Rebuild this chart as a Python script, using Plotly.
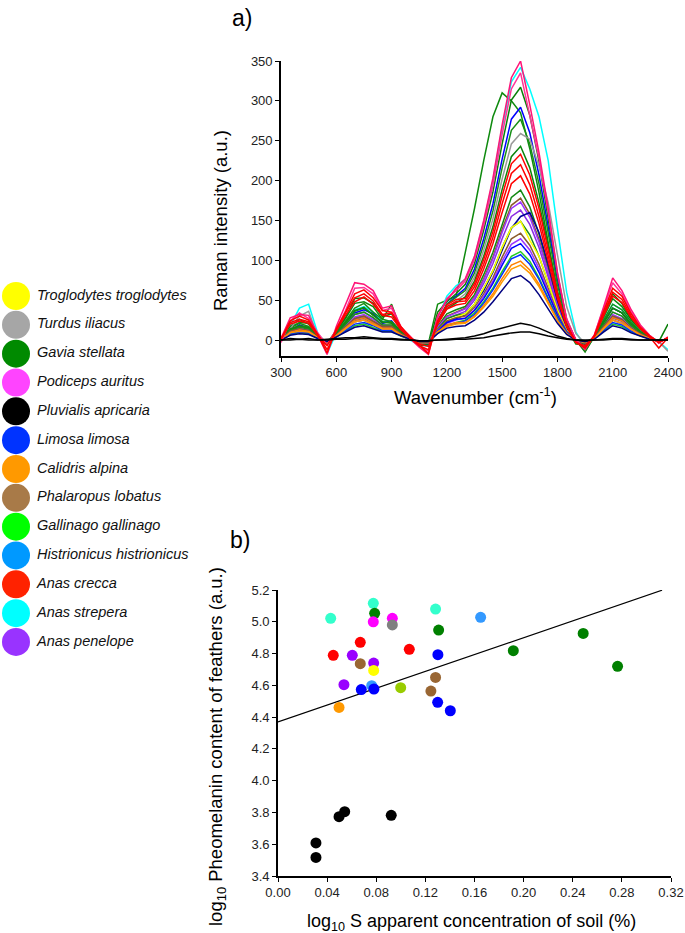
import plotly.graph_objects as go

FONT = "Liberation Sans, Arial, sans-serif"

# ---------------- Panel a: Raman spectra (values read at 50 cm-1 steps) ----------------
WAVENUMBER = [300, 350, 400, 450, 500, 550, 600, 650, 700, 750, 800, 850, 900, 950,
              1000, 1050, 1100, 1150, 1200, 1250, 1300, 1350, 1400, 1450, 1500, 1550,
              1600, 1650, 1700, 1750, 1800, 1850, 1900, 1950, 2000, 2050, 2100, 2150,
              2200, 2250, 2300, 2350, 2400]

SPEC_PINK_A = [2, 28, 32, 31, 6, -18, 17, 44, 72, 70, 62, 40, 43, 17, 2, -9, -18, 30, 50, 65, 77, 105, 150, 203, 270, 329, 350, 295, 235, 165, 85, 25, 0, -12, 6, 41, 78, 62, 38, 19, 6, -4, 4]
SPEC_CYAN = [3, 18, 40, 45, 8, -17, 9, 22, 38, 42, 35, 23, 24, 10, 0, -6, -8, 28, 55, 68, 76, 104, 148, 200, 266, 324, 342, 315, 280, 225, 140, 60, 10, -8, 4, 25, 45, 38, 23, 11, 4, -2, -12]
SPEC_PINK_B = [-3, 24, 34, 27, 9, -6, 13, 37, 65, 66, 58, 37, 40, 16, 5, -7, -14, 28, 52, 62, 74, 101, 144, 194, 258, 315, 335, 282, 228, 160, 84, 27, 0, -10, 6, 39, 72, 58, 35, 17, 6, -3, 3]
SPEC_GREEN_A = [1, 17, 26, 20, 7, -4, 12, 28, 52, 53, 46, 29, 33, 12, 3, -7, -6, 35, 48, 58, 70, 96, 138, 186, 246, 301, 317, 282, 224, 154, 80, 26, 0, -15, 5, 32, 58, 46, 26, 14, 5, -2, 20]
SPEC_GREEN_B = [0, 16, 22, 21, 4, -6, 11, 27, 46, 48, 42, 26, 45, 13, 2, -5, -4, 45, 50, 55, 110, 165, 225, 280, 310, 300, 285, 240, 185, 120, 60, 15, -5, -6, 4, 28, 52, 42, 25, 13, 4, -3, 3]
SPEC_BLUE_A = [2, 12, 19, 15, 3, -5, 9, 20, 34, 38, 33, 21, 24, 9, 1, -3, -6, 24, 45, 55, 65, 89, 127, 171, 227, 277, 292, 260, 207, 142, 74, 24, 0, -5, 3, 22, 40, 34, 20, 10, 3, -2, 2]
SPEC_GREEN_C = [-2, 15, 21, 17, 6, -4, 10, 24, 40, 46, 35, 26, 23, 12, 3, -6, -4, 24, 45, 54, 62, 84, 120, 162, 216, 263, 277, 246, 196, 134, 70, 22, 0, -14, 4, 25, 45, 38, 23, 11, 4, -2, 2]
SPEC_GRAY = [0, 14, 30, 36, 4, -4, 7, 19, 32, 35, 28, 19, 19, 9, 2, -4, -4, 21, 40, 49, 58, 79, 113, 152, 202, 246, 259, 252, 218, 172, 105, 42, 8, -4, 3, 19, 35, 30, 18, 9, 3, -2, -14]
SPEC_GREEN_D = [1, 13, 17, 15, 5, -3, 7, 21, 37, 41, 31, 23, 21, 11, 3, -4, -5, 21, 39, 47, 54, 74, 105, 142, 189, 230, 243, 216, 172, 118, 61, 20, 0, -5, 3, 22, 40, 34, 20, 10, 3, -2, 2]
SPEC_RED_A = [1, 24, 30, 25, 6, -16, 14, 35, 58, 63, 53, 37, 35, 17, 4, -6, -17, 24, 44, 51, 52, 71, 101, 136, 181, 221, 233, 207, 165, 113, 59, 19, -3, -10, 5, 36, 65, 55, 33, 16, 5, -3, 3]
SPEC_RED_B = [0, 22, 26, 23, 7, -12, 11, 34, 53, 58, 49, 32, 34, 14, 2, -7, -12, 22, 42, 48, 49, 67, 95, 129, 171, 209, 220, 195, 155, 107, 56, 18, -3, -9, 5, 33, 60, 51, 30, 15, 5, -3, 3]
SPEC_RED_C = [2, 20, 24, 21, 5, -7, 12, 31, 48, 54, 45, 31, 29, 13, 3, -5, -8, 20, 39, 44, 46, 62, 89, 121, 160, 196, 206, 183, 146, 100, 52, 17, -3, -7, 4, 30, 55, 47, 28, 14, 4, -10, 3]
SPEC_GREEN_E = [1, 14, 18, 16, 4, -4, 8, 22, 36, 40, 32, 22, 22, 10, 2, -4, -5, 17, 33, 38, 42, 57, 82, 110, 146, 179, 188, 167, 133, 91, 48, 15, 0, -5, 3, 22, 40, 34, 20, 10, 3, -2, 2]
SPEC_BROWN_A = [0, 11, 14, 12, 3, -3, 6, 17, 27, 30, 24, 17, 17, 8, 2, -3, -4, 16, 30, 35, 40, 54, 77, 104, 139, 169, 178, 158, 126, 86, 45, 14, 0, -4, 2, 17, 30, 26, 15, 8, 2, -2, 2]
SPEC_PURPLE_A = [0, 11, 14, 13, 3, -3, 6, 18, 29, 32, 26, 18, 18, 8, 2, -3, -4, 16, 29, 34, 39, 53, 75, 102, 135, 165, 173, 154, 123, 84, 44, 14, 0, -4, 3, 18, 32, 27, 16, 8, 3, -2, 2]
SPEC_PURPLE_B = [0, 10, 13, 11, 3, -3, 6, 15, 25, 28, 22, 15, 15, 7, 1, -3, -3, 14, 27, 32, 36, 50, 71, 96, 127, 155, 163, 145, 116, 79, 41, 13, 0, -3, 2, 15, 28, 24, 14, 7, 2, -1, 1]
SPEC_NAVY_A = [0, 9, 11, 10, 3, -3, 5, 14, 23, 25, 20, 14, 14, 6, 1, -3, -3, 12, 22, 27, 32, 45, 62, 85, 112, 140, 155, 160, 135, 95, 50, 15, 0, -3, 2, 14, 25, 21, 13, 6, 2, -1, 1]
SPEC_GREEN_F = [0, 12, 16, 14, 4, -4, 7, 19, 32, 35, 28, 19, 19, 9, 2, -4, -4, 14, 27, 31, 33, 45, 65, 87, 116, 141, 149, 132, 105, 72, 38, 12, 0, -4, 3, 19, 35, 30, 18, 9, 3, -2, 2]
SPEC_YELLOW = [0, 9, 11, 10, 3, -3, 5, 14, 23, 25, 20, 14, 14, 6, 1, -3, -3, 13, 24, 29, 33, 45, 65, 87, 116, 141, 149, 125, 105, 72, 38, 12, 0, -3, 2, 14, 25, 21, 13, 6, 2, -1, 1]
SPEC_BROWN_B = [0, 11, 14, 12, 3, -3, 6, 17, 27, 30, 24, 17, 17, 8, 2, -3, -4, 13, 24, 28, 30, 41, 58, 78, 104, 127, 134, 119, 95, 65, 34, 11, 0, -4, 2, 17, 30, 26, 15, 8, 2, -2, 2]
SPEC_PURPLE_C = [0, 9, 11, 10, 3, -3, 5, 14, 23, 25, 20, 14, 14, 6, 1, -3, -3, 12, 21, 25, 28, 38, 55, 74, 99, 120, 127, 113, 90, 61, 32, 10, 0, -3, 2, 14, 25, 21, 13, 6, 2, -1, 1]
SPEC_BLUE_B = [0, 10, 13, 11, 3, -3, 6, 15, 25, 28, 22, 15, 15, 7, 1, -3, -3, 11, 22, 26, 27, 37, 52, 71, 94, 115, 121, 107, 85, 59, 31, 10, 0, -3, 2, 15, 28, 24, 14, 7, 2, -1, 1]
SPEC_LIME = [0, 7, 9, 8, 2, -2, 4, 11, 18, 20, 16, 11, 11, 5, 1, -2, -2, 10, 18, 22, 25, 34, 48, 65, 86, 105, 111, 99, 78, 54, 28, 9, 0, -2, 2, 11, 20, 17, 10, 5, 2, -1, 1]
SPEC_BLUE_C = [0, 8, 10, 9, 2, -2, 4, 12, 20, 22, 18, 12, 12, 6, 1, -2, -3, 9, 19, 21, 24, 32, 46, 63, 83, 102, 107, 95, 76, 52, 27, 9, 0, -3, 2, 12, 22, 19, 11, 6, 2, -1, 1]
SPEC_ORANGE_A = [0, 10, 13, 11, 3, -3, 6, 15, 25, 28, 22, 15, 15, 7, 1, -3, -3, 10, 19, 22, 22, 30, 43, 58, 77, 94, 99, 88, 70, 48, 25, 8, 0, -3, 2, 15, 28, 24, 14, 7, 2, -1, 1]
SPEC_ORANGE_B = [0, 9, 11, 10, 3, -3, 5, 14, 23, 25, 20, 14, 14, 6, 1, -3, -3, 10, 17, 20, 21, 29, 41, 55, 73, 89, 94, 84, 67, 46, 24, 8, 0, -3, 2, 14, 25, 21, 13, 6, 2, -1, 1]
SPEC_NAVY_B = [0, 6, 8, 7, 2, -2, 4, 10, 16, 18, 14, 10, 10, 5, 1, -2, -2, 8, 15, 17, 18, 25, 35, 48, 63, 77, 81, 72, 57, 39, 21, 7, 0, -2, 1, 10, 18, 15, 9, 5, 1, -1, 1]
SPEC_BLACK_A = [0, 2, 1, 2, 0, 1, 2, 3, 3, 4, 3, 2, 2, 1, 0, -1, -1, 0, 1, 2, 3, 5, 8, 12, 15, 18, 21, 19, 15, 10, 5, 2, 0, -1, 0, 1, 2, 2, 1, 0, 0, 0, 0]
SPEC_BLACK_B = [0, 0, 1, 0, 0, 0, 1, 1, 2, 2, 2, 1, 1, 0, 0, -1, -1, 0, 0, 1, 1, 2, 3, 5, 7, 9, 10, 10, 8, 5, 3, 1, 0, 0, 0, 0, 1, 1, 0, 0, 0, 0, 0]

# drawing order (bottom -> top) with line colours
SPECTRA = [
    (SPEC_GREEN_B, "#0E8A0E"), (SPEC_CYAN, "#00FFFF"), (SPEC_GREEN_A, "#0A7F0A"),
    (SPEC_BLUE_A, "#0000FF"), (SPEC_GREEN_C, "#178F17"), (SPEC_GRAY, "#999999"),
    (SPEC_GREEN_D, "#0B840B"), (SPEC_GREEN_E, "#118811"), (SPEC_BROWN_A, "#8B5A2B"),
    (SPEC_PURPLE_A, "#9933FF"), (SPEC_PURPLE_B, "#8A2BE2"), (SPEC_NAVY_A, "#000099"),
    (SPEC_GREEN_F, "#1C8C1C"), (SPEC_YELLOW, "#FFFF00"), (SPEC_BROWN_B, "#8B5A2B"),
    (SPEC_PURPLE_C, "#9933FF"), (SPEC_BLUE_B, "#0000FF"), (SPEC_LIME, "#22CC22"),
    (SPEC_BLUE_C, "#0033FF"), (SPEC_ORANGE_A, "#FF8000"), (SPEC_ORANGE_B, "#FF9900"),
    (SPEC_NAVY_B, "#000080"), (SPEC_PINK_B, "#FF3399"), (SPEC_PINK_A, "#FF1477"),
    (SPEC_RED_C, "#FF0000"), (SPEC_RED_B, "#FF0000"), (SPEC_RED_A, "#FF0000"),
    (SPEC_BLACK_B, "#000000"), (SPEC_BLACK_A, "#000000"),
]
for arr, _c in SPECTRA:
    assert len(arr) == len(WAVENUMBER)

SPEC_X_TICKS = [300, 600, 900, 1200, 1500, 1800, 2100, 2400]
SPEC_Y_TICKS = [0, 50, 100, 150, 200, 250, 300, 350]

# ---------------- Legend (species) ----------------
SPECIES = ["Troglodytes troglodytes", "Turdus iliacus", "Gavia stellata", "Podiceps auritus",
           "Pluvialis apricaria", "Limosa limosa", "Calidris alpina", "Phalaropus lobatus",
           "Gallinago gallinago", "Histrionicus histrionicus", "Anas crecca", "Anas strepera",
           "Anas penelope"]
LEGEND_COLORS = ["#FFFF00", "#A6A6A6", "#008A00", "#FF44FF", "#000000", "#0033FF", "#FF9900",
                 "#A87A48", "#00FF00", "#0099FF", "#FF2200", "#00FFFF", "#9933FF"]

# ---------------- Panel b: scatter ----------------
PT_SPECIES = ["Anas strepera", "Anas strepera", "Anas strepera",
              "Gavia stellata", "Gavia stellata", "Gavia stellata", "Gavia stellata", "Gavia stellata",
              "Podiceps auritus", "Podiceps auritus", "Turdus iliacus",
              "Histrionicus histrionicus", "Histrionicus histrionicus",
              "Anas crecca", "Anas crecca", "Anas crecca",
              "Anas penelope", "Anas penelope", "Anas penelope",
              "Limosa limosa", "Limosa limosa", "Limosa limosa", "Limosa limosa", "Limosa limosa",
              "Phalaropus lobatus", "Phalaropus lobatus", "Phalaropus lobatus",
              "Troglodytes troglodytes", "Gallinago gallinago", "Calidris alpina",
              "Pluvialis apricaria", "Pluvialis apricaria", "Pluvialis apricaria",
              "Pluvialis apricaria", "Pluvialis apricaria"]
PT_SOIL = [0.0429, 0.0776, 0.1283,
           0.0787, 0.1308, 0.1916, 0.2485, 0.2765,
           0.0776, 0.0931, 0.0931,
           0.1650, 0.0763,
           0.0670, 0.0450, 0.1069,
           0.0605, 0.0779, 0.0537,
           0.1302, 0.0678, 0.0781, 0.1300, 0.1403,
           0.0670, 0.1283, 0.1245,
           0.0779, 0.0999, 0.0497,
           0.0309, 0.0309, 0.0497, 0.0543, 0.0922]
PT_PHEO = [5.022, 5.116, 5.080,
           5.053, 4.948, 4.818, 4.927, 4.720,
           5.000, 5.022, 4.980,
           5.028, 4.598,
           4.871, 4.789, 4.827,
           4.789, 4.740, 4.604,
           4.793, 4.573, 4.577, 4.493, 4.440,
           4.736, 4.650, 4.564,
           4.694, 4.585, 4.461,
           3.608, 3.517, 3.773, 3.805, 3.782]
SCATTER_COLORS = {
    "Troglodytes troglodytes": "#FFFF00", "Turdus iliacus": "#808080", "Gavia stellata": "#008000",
    "Podiceps auritus": "#FF00FF", "Pluvialis apricaria": "#000000", "Limosa limosa": "#0000FF",
    "Calidris alpina": "#FF9900", "Phalaropus lobatus": "#996633", "Gallinago gallinago": "#99CC00",
    "Histrionicus histrionicus": "#3399FF", "Anas crecca": "#FF0000", "Anas strepera": "#33FFCC",
    "Anas penelope": "#9900FF",
}
FIT_INTERCEPT = 4.37
FIT_SLOPE = 2.65
FIT_X = [0.0, 0.3127]
SOIL_TICKS = [0.00, 0.04, 0.08, 0.12, 0.16, 0.20, 0.24, 0.28, 0.32]
PHEO_TICKS = [3.4, 3.6, 3.8, 4.0, 4.2, 4.4, 4.6, 4.8, 5.0, 5.2]

FW, FH = 685, 933


def px(x):  # window x pixel -> paper fraction
    return x / FW


def py(y):  # window y pixel -> paper fraction
    return 1 - y / FH


fig = go.Figure()

for arr, col in SPECTRA:
    fig.add_trace(go.Scatter(x=WAVENUMBER, y=arr, mode="lines", line=dict(color=col, width=1.5),
                             xaxis="x", yaxis="y", showlegend=False, hoverinfo="skip"))

# regression line
fig.add_trace(go.Scatter(x=FIT_X, y=[FIT_INTERCEPT + FIT_SLOPE * v for v in FIT_X], mode="lines",
                         line=dict(color="black", width=1.2), xaxis="x2", yaxis="y2",
                         showlegend=False, hoverinfo="skip"))
fig.add_trace(go.Scatter(x=PT_SOIL, y=PT_PHEO, mode="markers",
                         marker=dict(size=11, color=[SCATTER_COLORS[s] for s in PT_SPECIES],
                                     line=dict(width=0)),
                         xaxis="x2", yaxis="y2", showlegend=False, cliponaxis=False))

# legend drawn as traces on a hidden axis measured in pixels
LEG_TEXT_GAP = 21
fig.add_trace(go.Scatter(x=[0] * len(SPECIES), y=list(range(len(SPECIES))), mode="markers",
                         marker=dict(size=28, color=LEGEND_COLORS, line=dict(width=0)),
                         xaxis="x3", yaxis="y3", showlegend=False, cliponaxis=False, hoverinfo="skip"))
fig.add_trace(go.Scatter(x=[LEG_TEXT_GAP] * len(SPECIES), y=list(range(len(SPECIES))), mode="text",
                         text=["<i>%s</i>" % s for s in SPECIES], textposition="middle right",
                         textfont=dict(family=FONT, size=14.5, color="#111111"),
                         xaxis="x3", yaxis="y3", showlegend=False, cliponaxis=False, hoverinfo="skip"))

axis_common = dict(showline=True, linecolor="black", linewidth=1.6, ticks="outside", ticklen=4,
                   tickwidth=1.3, tickcolor="black", showgrid=False, zeroline=False, automargin=False,
                   tickfont=dict(family=FONT, size=13, color="#222222"))

leg_top, leg_step, leg_x = 296, 28.83, 16
LEG_DOM = 0.25
fig.update_layout(
    template="none",
    width=FW, height=FH, margin=dict(l=0, r=0, t=0, b=0, pad=0, autoexpand=False),
    paper_bgcolor="white", plot_bgcolor="rgba(0,0,0,0)",
    font=dict(family=FONT, color="black"),
    xaxis=dict(domain=[px(281), px(668)], range=[300, 2400], tickvals=SPEC_X_TICKS, anchor="y",
               **axis_common),
    yaxis=dict(domain=[py(356), py(61)], range=[-20, 350], tickvals=SPEC_Y_TICKS, anchor="x",
               **axis_common),
    xaxis2=dict(domain=[px(278), px(671)], range=[0, 0.32], tickvals=SOIL_TICKS, tickformat=".2f",
                anchor="y2", **axis_common),
    yaxis2=dict(domain=[py(876), py(590)], range=[3.4, 5.2], tickvals=PHEO_TICKS, tickformat=".1f",
                anchor="x2", **axis_common),
    xaxis3=dict(domain=[0, LEG_DOM], range=[-leg_x, LEG_DOM * FW - leg_x], visible=False, anchor="y3",
                automargin=False),
    yaxis3=dict(domain=[0, 1], range=[(FH - leg_top) / leg_step, -leg_top / leg_step],
                visible=False, anchor="x3", automargin=False),
)

annotations = [
    dict(text="a)", x=px(242), y=py(18), font=dict(size=23)),
    dict(text="b)", x=px(240), y=py(540), font=dict(size=23)),
    dict(text="Raman intensity (a.u.)", x=px(220), y=py(221), textangle=-90, font=dict(size=18.5)),
    dict(text="Wavenumber (cm<sup>-1</sup>)", x=px(475), y=py(396), font=dict(size=18.5)),
    dict(text="log<sub>10</sub> Pheomelanin content of feathers (a.u.)", x=px(217), y=py(747),
         textangle=-90, font=dict(size=18.5)),
    dict(text="log<sub>10</sub> S apparent concentration of soil (%)", x=px(471), y=py(922),
         font=dict(size=18)),
]
for a in annotations:
    a.update(xref="paper", yref="paper", showarrow=False, xanchor="center", yanchor="middle")
    a["font"].update(family=FONT, color="black")
fig.update_layout(annotations=annotations)

# remove the default page margin so the figure sits at the window's top-left corner
fig.write_html("out.html", config={"displayModeBar": False},
               post_script="document.body.style.margin='0';")
